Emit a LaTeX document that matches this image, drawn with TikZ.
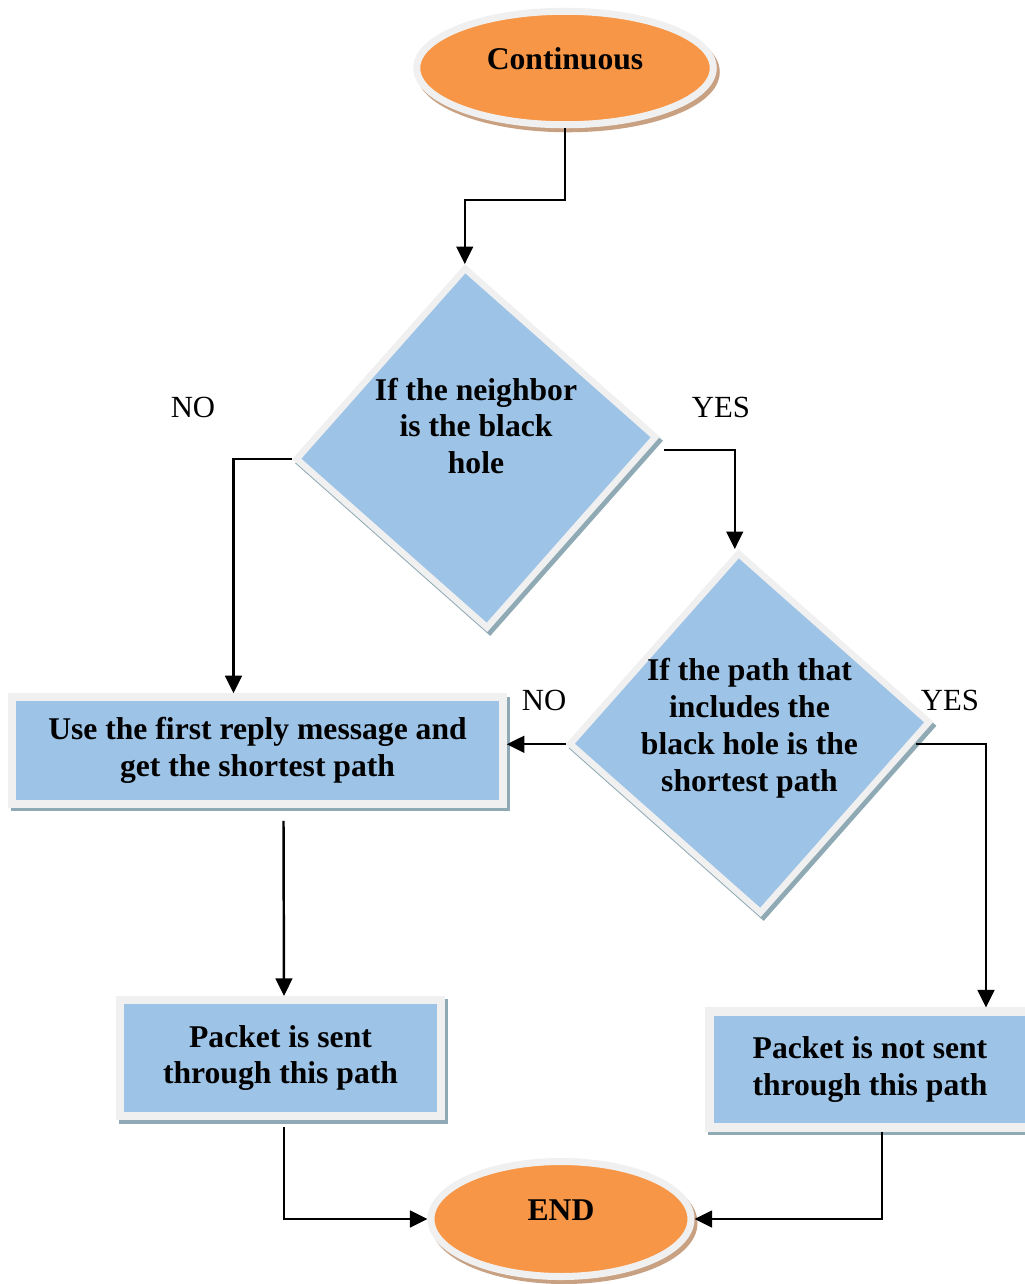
\documentclass[tikz,border=0pt]{standalone}
\usepackage{fontspec}
\setmainfont{Liberation Serif}
\usepackage{tikz}
\usetikzlibrary{shapes, arrows.meta, shadows}
\definecolor{termorange}{HTML}{F79646}
\definecolor{boxblue}{HTML}{9DC3E6}
\definecolor{rimgrey}{HTML}{F0F0F0}
\definecolor{boxshadow}{HTML}{8FAAB4}
\definecolor{termshadow}{HTML}{C8A082}
\tikzstyle{terminal} = [ellipse, draw=rimgrey, line width=4pt, fill=termorange, inner sep=0pt, text depth=3.6mm, font=\bfseries\fontsize{18}{21}\selectfont, drop shadow={shadow xshift=0.6mm, shadow yshift=-0.8mm, fill=termshadow, draw=termshadow, line width=4pt, opacity=1}]
\tikzstyle{decision} = [diamond, draw=rimgrey, line width=3.7pt, fill=boxblue, inner sep=0pt, minimum size=7.24cm, drop shadow={shadow xshift=0.6mm, shadow yshift=-0.8mm, fill=boxshadow, draw=boxshadow, line width=3.7pt, opacity=1}]
\tikzstyle{block} = [rectangle, draw=rimgrey, line width=4.6pt, fill=boxblue, align=center, minimum width=6.42cm, minimum height=2.32cm, font=\bfseries\fontsize{18}{21}\selectfont, drop shadow={shadow xshift=0.6mm, shadow yshift=-0.7mm, fill=boxshadow, draw=boxshadow, line width=4.6pt, opacity=1}]
\tikzstyle{qtext} = [align=center, font=\bfseries\fontsize{18}{21}\selectfont]
\tikzstyle{answer} = [font=\fontsize{17.5}{21}\selectfont]
\tikzstyle{arrowline} = [-{Triangle[length=10pt, width=9.5pt]}, line width=1.4pt]

\begin{document}
\begin{tikzpicture}[node distance=4cm]
\useasboundingbox (0,0) rectangle (20.48,-25.68);
\node (cont) [terminal, minimum width=5.93cm, minimum height=2.27cm] at (11.3,-1.36) {Continuous};
\node (q1) [decision, below of=cont, xshift=-1.78cm, yshift=-3.6cm, rotate=3.5] {};
\node (q1txt) [qtext, below of=q1, yshift=4.44cm] {If the neighbor\\is the black\\hole};
\node (no1) [answer, below of=cont, xshift=-7.44cm, yshift=-2.78cm] {NO};
\node (yes1) [answer, below of=cont, xshift=3.12cm, yshift=-2.78cm] {YES};
\node (q2) [decision, below of=q1, xshift=5.47cm, yshift=-1.7cm, rotate=3.5] {};
\node (q2txt) [qtext, below of=q2, yshift=4.1cm] {If the path that\\includes the\\black hole is the\\shortest path};
\node (no2) [answer, below of=q2, xshift=-4.11cm, yshift=4.66cm] {NO};
\node (yes2) [answer, below of=q2, xshift=4.01cm, yshift=4.66cm] {YES};
\node (r1) [block, below of=q1, xshift=-4.37cm, yshift=-2.05cm, minimum width=9.81cm, minimum height=2.13cm] {Use the first reply message and\\get the shortest path};
\node (r2) [block, below of=r1, xshift=0.46cm, yshift=-2.15cm] {Packet is sent\\through this path};
\node (r3) [block, below of=q2, xshift=2.41cm, yshift=-2.73cm] {Packet is not sent\\through this path};
\node (stop) [terminal, below of=r2, xshift=5.61cm, yshift=0.78cm, minimum width=5.2cm, minimum height=2.3cm] {END};
\draw[arrowline] (cont.south) -- ++(0,-1.43) -| (q1.north);
\draw[arrowline] (q1.west) -| ([xshift=-4.8mm]r1.north);
\draw[arrowline] ([xshift=0.8mm,yshift=-2.6mm]q1.east) -| ([xshift=-0.7mm]q2.north);
\draw[arrowline] (q2.west) -- (q2.west -| r1.east);
\draw[arrowline] ([xshift=-3.5mm,yshift=-4.5mm]q2.east) -| ([xshift=23.2mm]r3.north);
\draw[arrowline] ([xshift=5.2mm,yshift=-2.6mm]r1.south) -- ([xshift=0.7mm]r2.north);
\draw[arrowline] ([xshift=0.7mm,yshift=-1.4mm]r2.south) |- (stop.west);
\draw[arrowline] ([xshift=2.4mm]r3.south) |- (stop.east);
\end{tikzpicture}
\end{document}
